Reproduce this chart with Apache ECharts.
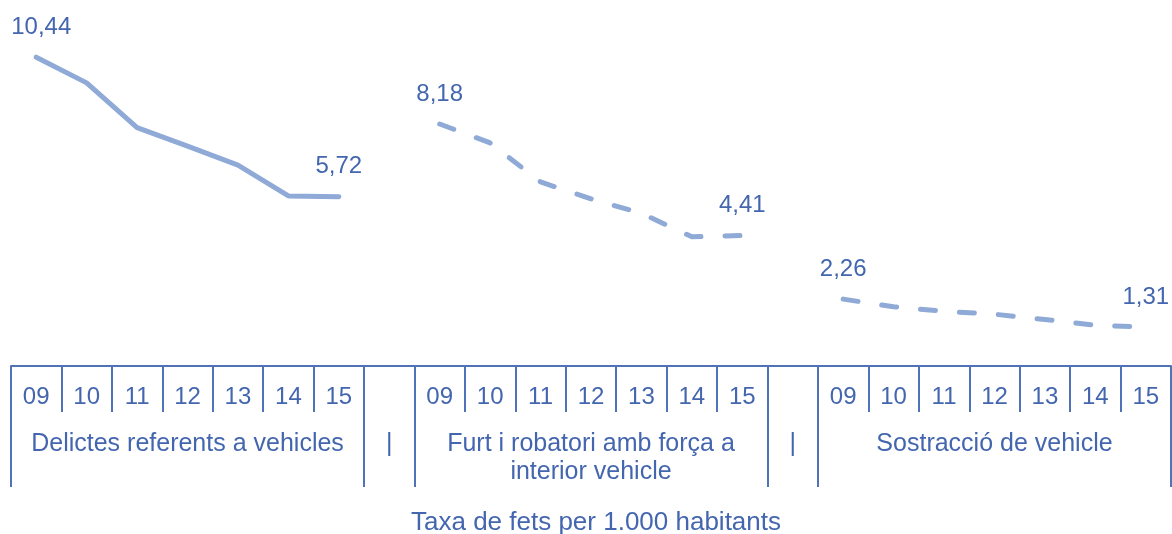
<!DOCTYPE html>
<html>
<head>
<meta charset="utf-8">
<title>Taxa de fets per 1.000 habitants</title>
<script src="https://cdn.jsdelivr.net/npm/echarts@6/dist/echarts.min.js"></script>
<style>
  html, body { margin: 0; padding: 0; background: #fff; }
  #chart { width: 1172px; height: 534px; }
</style>
</head>
<body>
<div id="chart"></div>
<script>
// anys de cada grup
const years = ['09', '10', '11', '12', '13', '14', '15'];
// grups (categories de primer nivell)
const groups = ['Delictes referents a vehicles', 'Furt i robatori amb força a\ninterior vehicle', 'Sostracció de vehicle'];
const separator = '|';
// taxes per grup
const delictesVehicles = [10.44, 9.57, 8.06, 7.43, 6.79, 5.75, 5.72];
const furtInterior = [8.18, 7.54, 6.22, 5.65, 5.16, 4.37, 4.41];
const sostraccio = [2.26, 2.00, 1.85, 1.75, 1.57, 1.38, 1.31];
const axisName = 'Taxa de fets per 1.000 habitants';

const textColor = '#4366AF';
const axisColor = '#4F72B9';
const lineColor = '#8FAAD6';
const font = '"Liberation Sans", Arial, sans-serif';

// categories: 7 anys + buit entre grups
const yearCats = [];
const groupCats = [];
const groupStart = [];
groups.forEach((g, gi) => {
  groupStart.push(yearCats.length);
  years.forEach((y, i) => {
    yearCats.push(y);
    groupCats.push(i === 3 ? g : '');
  });
  if (gi < groups.length - 1) {
    yearCats.push('');
    groupCats.push(separator);
  }
});
// límits entre grups (índex on comença cada tram)
const boundaries = [];
groupStart.forEach((s, i) => {
  boundaries.push(s);
  if (i < groupStart.length - 1) boundaries.push(s + years.length);
});

function fmt(v) {
  return v.toFixed(2).replace('.', ',');
}

function makeData(values, offset, firstShift) {
  return values.map((v, i) => {
    const item = { value: [offset + i, v] };
    if (i === 0 || i === values.length - 1) item.label = { show: true };
    // la primera etiqueta queda arrambada dins del marge esquerre
    if (i === 0 && firstShift) item.label.offset = [firstShift, 0];
    return item;
  });
}

function makeSeries(values, offset, dashed, firstShift) {
  return {
    type: 'line',
    data: makeData(values, offset, firstShift),
    symbol: 'circle',
    symbolSize: 0.01,
    showAllSymbol: true,
    itemStyle: { color: 'rgba(0,0,0,0)' },
    lineStyle: {
      color: lineColor,
      width: 5,
      type: dashed ? [15, 24] : 'solid',
      cap: 'round',
      join: 'round'
    },
    label: {
      show: false,
      position: 'top',
      distance: 18,
      color: textColor,
      fontSize: 24,
      fontFamily: font,
      formatter: p => fmt(p.value[1])
    },
    emphasis: { disabled: true }
  };
}

const chart = echarts.init(document.getElementById('chart'));
chart.setOption({
  animation: false,
  grid: { left: 11, right: 1, top: 11, bottom: 168, outerBoundsMode: 'none' },
  xAxis: [
    {
      type: 'category',
      data: yearCats,
      position: 'bottom',
      axisLine: { show: true, lineStyle: { color: axisColor, width: 2 } },
      axisTick: { show: true, interval: 0, length: 46, lineStyle: { color: axisColor, width: 2 } },
      axisLabel: { interval: 0, margin: 19, color: textColor, fontSize: 24, fontFamily: font },
      splitLine: { show: false }
    },
    {
      type: 'category',
      data: groupCats,
      position: 'bottom',
      offset: 0,
      axisLine: { show: false },
      axisTick: {
        show: true,
        interval: i => boundaries.indexOf(i) >= 0,
        length: 121,
        lineStyle: { color: axisColor, width: 2 }
      },
      axisLabel: {
        interval: (i, v) => v !== '',
        margin: 64,
        color: textColor,
        fontSize: 25,
        lineHeight: 28,
        fontFamily: font,
        align: 'center'
      },
      name: axisName,
      nameLocation: 'middle',
      nameGap: 144,
      nameTextStyle: { color: textColor, fontSize: 26, fontFamily: font, padding: [0, 0, 0, 10] },
      splitLine: { show: false }
    }
  ],
  yAxis: { type: 'value', min: 0, max: 12, show: false, splitLine: { show: false } },
  series: [
    makeSeries(delictesVehicles, groupStart[0], false, 5),
    makeSeries(furtInterior, groupStart[1], true),
    makeSeries(sostraccio, groupStart[2], true)
  ]
});
</script>
</body>
</html>
